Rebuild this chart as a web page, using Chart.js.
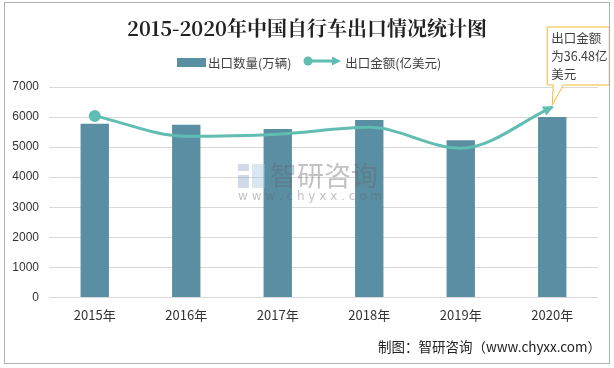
<!DOCTYPE html>
<html>
<head>
<meta charset="utf-8">
<script src="https://cdn.jsdelivr.net/npm/chart.js@4"></script>
<style>
  body { margin: 0; background: #fff; font-family: "Noto Sans CJK SC", "Microsoft YaHei", sans-serif; }
  #wrap { position: absolute; left: 4px; top: 2px; width: 604px; height: 360px; border: 1px solid #b0b0b0; }
  #chart { position: absolute; left: 0; top: 0; }
  #title { position: absolute; left: 0; top: 10px; width: 604px; text-align: center; font-size: 20px; font-weight: bold; color: #222; font-family: "Noto Serif CJK SC", "Noto Sans CJK SC", serif; }
  #legend { position: absolute; top: 48px; left: 172px; font-size: 12.5px; color: #404040; white-space: nowrap; }
  #legend span { display: inline-block; vertical-align: middle; }
  #footer { position: absolute; right: 8px; top: 333px; font-size: 13.5px; color: #222; }
</style>
</head>
<body>
<div id="wrap">
  <canvas id="chart" width="604" height="360"></canvas>
  <div id="title">2015-2020年中国自行车出口情况统计图</div>
  <div id="legend">
    <span style="width:29px;height:9px;background:#5A8EA3;"></span><span style="margin-left:2px;">出口数量(万辆)</span>
    <span style="margin-left:8px;"><canvas id="legline" width="40" height="14"></canvas></span><span style="margin-left:3px;">出口金额(亿美元)</span>
  </div>
  <div id="footer">制图：智研咨询（www.chyxx.com）</div>
</div>
<script>
// ---- data ----
const years = ['2015年', '2016年', '2017年', '2018年', '2019年', '2020年'];
const exportVolume = [5780, 5740, 5600, 5900, 5230, 6000];   // 万辆
const exportValue = [34.8, 30.9, 31.3, 32.6, 28.6, 36.48];    // 亿美元
const volumeTicks = [0, 1000, 2000, 3000, 4000, 5000, 6000, 7000];

const BAR_COLOR = '#5A8EA3';
const LINE_COLOR = '#5FBDB2';

// legend line symbol
(function () {
  const c = document.getElementById('legline').getContext('2d');
  c.strokeStyle = LINE_COLOR; c.fillStyle = LINE_COLOR; c.lineWidth = 3;
  c.beginPath(); c.moveTo(5, 7); c.lineTo(32, 7); c.stroke();
  c.beginPath(); c.arc(6, 7, 4.5, 0, Math.PI * 2); c.fill();
  c.beginPath(); c.moveTo(39, 7); c.lineTo(30, 2.5); c.lineTo(30, 11.5); c.closePath(); c.fill();
})();

const extras = {
  id: 'extras',
  afterDatasetsDraw(chart) {
    const ctx = chart.ctx;
    // watermark
    ctx.save();
    ctx.globalAlpha = 0.4;
    ctx.fillStyle = '#8fa3c8';
    ctx.fillRect(233, 161, 11, 7);
    ctx.fillRect(233, 172, 11, 13);
    ctx.fillStyle = '#9fc4e0';
    ctx.fillRect(247, 161, 13, 24);
    ctx.fillStyle = '#666';
    ctx.font = '27px "Noto Sans CJK SC"';
    ctx.textBaseline = 'middle';
    ctx.fillText('智研咨询', 265, 173);
    ctx.font = '12px "DejaVu Sans"';
    ctx.fillText('w w w . c h y x x . c o m', 233, 194);
    ctx.restore();

    const pts = chart.getDatasetMeta(1).data;
    const last = pts[pts.length - 1];
    // arrow head at the end of the line
    ctx.save();
    ctx.fillStyle = LINE_COLOR;
    ctx.translate(last.x, last.y);
    ctx.rotate(-0.45);
    ctx.beginPath();
    ctx.moveTo(2, 0); ctx.lineTo(-9, -5); ctx.lineTo(-9, 5); ctx.closePath(); ctx.fill();
    ctx.restore();
    // callout
    const bx = last.x - 5, by = 24, bw = 62, bh = 58;
    ctx.save();
    ctx.strokeStyle = '#F2B933'; ctx.lineWidth = 1;
    ctx.fillStyle = '#fff';
    ctx.beginPath();
    ctx.moveTo(bx, by); ctx.lineTo(bx + bw, by); ctx.lineTo(bx + bw, by + bh);
    ctx.lineTo(bx + 16, by + bh); ctx.lineTo(last.x, last.y - 2); ctx.lineTo(bx + 6, by + bh);
    ctx.lineTo(bx, by + bh); ctx.closePath();
    ctx.fill(); ctx.stroke();
    ctx.fillStyle = '#404040';
    ctx.font = '12.5px "Noto Sans CJK SC"';
    ctx.textBaseline = 'middle';
    ctx.fillText('出口金额', bx + 4, by + 11);
    ctx.fillText('为36.48亿', bx + 4, by + 29);
    ctx.fillText('美元', bx + 4, by + 47);
    ctx.restore();
  }
};

new Chart(document.getElementById('chart'), {
  data: {
    labels: years,
    datasets: [
      {
        type: 'bar',
        label: '出口数量(万辆)',
        data: exportVolume,
        backgroundColor: BAR_COLOR,
        categoryPercentage: 0.31,
        barPercentage: 1.0,
        yAxisID: 'y',
        order: 2
      },
      {
        type: 'line',
        label: '出口金额(亿美元)',
        data: exportValue,
        borderColor: LINE_COLOR,
        backgroundColor: LINE_COLOR,
        borderWidth: 3,
        tension: 0.4,
        cubicInterpolationMode: 'monotone',
        pointRadius: [4.5, 0, 0, 0, 0, 0],
        pointHoverRadius: 0,
        yAxisID: 'y1',
        order: 1
      }
    ]
  },
  options: {
    responsive: false,
    animation: false,
    layout: { padding: { top: 84, right: 11, left: 0, bottom: 30 } },
    plugins: {
      legend: { display: false },
      tooltip: { enabled: false }
    },
    scales: {
      x: {
        grid: { display: false, drawTicks: false },
        border: { display: false },
        ticks: { color: '#333', font: { size: 13, family: '"Noto Sans CJK SC"' }, padding: 10 }
      },
      y: {
        min: 0,
        max: 7000,
        afterBuildTicks(s) { s.ticks = volumeTicks.map(v => ({ value: v })); },
        afterFit(s) { s.width = 44; },
        grid: { color: '#d9d9d9', drawTicks: false },
        border: { display: false },
        ticks: {
          color: '#333',
          font: { size: 12, family: '"Liberation Sans", Arial' },
          padding: 10,
          callback: v => String(v)
        }
      },
      y1: {
        display: false,
        min: 0,
        max: 40.34
      }
    }
  },
  plugins: [extras]
});
</script>
</body>
</html>
